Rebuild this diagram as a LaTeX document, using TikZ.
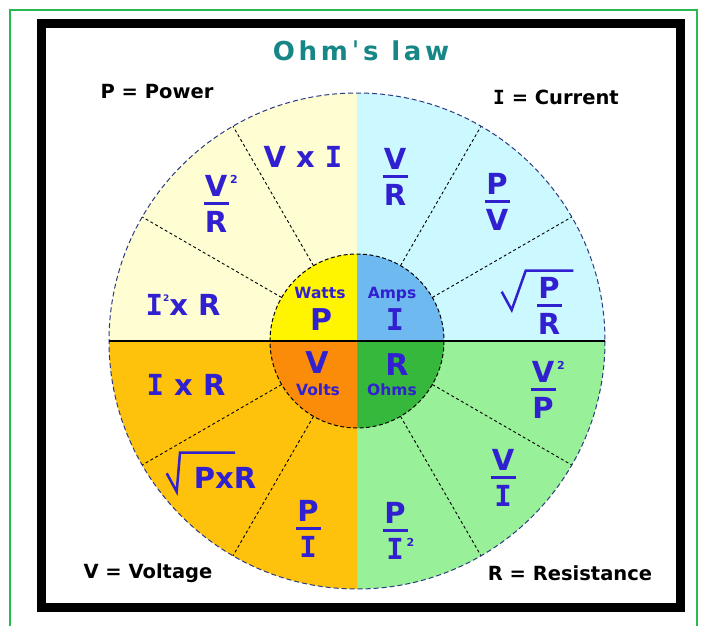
\documentclass[tikz,border=0pt]{standalone}
\usepackage{fontspec}
\setmainfont{DejaVu Sans}
\newfontfamily\monof{DejaVu Sans Mono}
\newcommand\II{{\monof\bfseries I}}
\newcommand\supt[1]{\rlap{\hspace{3pt}\raisebox{13pt}{\fontsize{11}{11}\selectfont #1}}}
\usetikzlibrary{calc}
\definecolor{frmgreen}{RGB}{40,185,80}
\definecolor{titleteal}{RGB}{22,134,134}
\definecolor{fblue}{RGB}{48,32,208}
\definecolor{rimblue}{RGB}{45,60,130}
\definecolor{qAout}{RGB}{255,253,210}
\definecolor{qAin}{RGB}{255,245,0}
\definecolor{qBout}{RGB}{204,248,255}
\definecolor{qBin}{RGB}{110,185,240}
\definecolor{qCout}{RGB}{255,194,12}
\definecolor{qCin}{RGB}{250,140,10}
\definecolor{qDout}{RGB}{152,240,152}
\definecolor{qDin}{RGB}{54,184,60}
\tikzset{
  fml/.style={text=fblue, font=\fontsize{29}{29}\selectfont\bfseries, inner sep=0pt, anchor=base},
  inl/.style={text=fblue, font=\fontsize{15.5}{16}\selectfont\bfseries, inner sep=0pt, anchor=base},
  inbig/.style={text=fblue, font=\fontsize{30}{30}\selectfont\bfseries, inner sep=0pt, anchor=base},
  corner/.style={text=black, font=\fontsize{19.5}{20}\selectfont\bfseries, inner sep=0pt, anchor=base},
  titlestyle/.style={text=titleteal, font=\fontsize{26}{26}\selectfont\bfseries\addfontfeature{LetterSpace=14}, inner sep=0pt, anchor=base},
  fbar/.style={fblue, line width=3pt},
  radical/.style={fblue, line width=2.5pt, line join=miter},
  divider/.style={black, line width=0.9pt, dash pattern=on 3pt off 2.5pt},
  rim/.style={rimblue, line width=1pt, dash pattern=on 5pt off 3pt},
  incircle/.style={black, line width=1pt, dash pattern=on 4pt off 2.5pt},
}
% name, x, y of bar, numerator, denominator
\newcommand\fracnode[5]{%
  \node[fml] (#1n) at (#2,#3-7) {#4};
  \node[fml] (#1d) at (#2,#3+29) {#5};
  \coordinate (#1bl) at (#2-12.5,#3);
  \coordinate (#1br) at (#2+12.5,#3);
  \draw[fbar] (#1bl) -- (#1br);
}
\begin{document}
\begin{tikzpicture}[x=1pt,y=-1pt]
\fill[white] (0,0) rectangle (707,626);
\useasboundingbox (0,0) rectangle (707,626);
% frames
\draw[frmgreen, line width=1.5pt] (10,632) -- (10,10) -- (697,10) -- (697,632);
\draw[black, line width=9pt] (41.5,24) rectangle (680.5,607.5);
% circle
\coordinate (C) at (357,341);
\foreach \a/\co/\ci in {180/qAout/qAin, 270/qBout/qBin, 0/qDout/qDin, 90/qCout/qCin} {
  \fill[\co] (C) -- +(\a:248) arc[start angle=\a, delta angle=90, radius=248] -- cycle;
  \fill[\ci] (C) -- +(\a:87) arc[start angle=\a, delta angle=90, radius=87] -- cycle;
}
\foreach \a in {30,60,120,150,210,240,300,330}
  \draw[divider] (C) ++(\a:87) -- +(\a:161);
\draw[rim] (C) circle[radius=248];
\draw[incircle] (C) circle[radius=87];
\coordinate (HL) at (109,341);
\coordinate (HR) at (605,341);
\draw[black, line width=1.2pt] (HL) -- (HR);
% title and corner labels
\node[titlestyle] (title) at (361,61) {Ohm\symbol{"02C8}s law};
\node[corner] (pw) at (157,99) {P = Power};
\node[corner] (cu) at (556,104) {\II{} = Current};
\node[corner] (vo) at (148,578) {V = Voltage};
\node[corner] (re) at (570,580) {R = Resistance};
% inner labels
\node[inl] (watts) at (320,298) {Watts};
\node[inbig] (pin) at (321,330) {P};
\node[inl] (amps) at (392,298) {Amps};
\node[inbig] (iin) at (395,330) {\II};
\node[inbig] (vin) at (317,373) {V};
\node[inl] (volts) at (318,395) {Volts};
\node[inbig] (rin) at (397,375) {R};
\node[inl] (ohms) at (392,395) {Ohms};
% top-left quadrant
\node[fml] (vxi) at (303,167) {V x \II};
\fracnode{vsqr}{216}{203.5}{V\supt{2}}{R}
\node[fml] (isqr) at (183,315) {\II\raisebox{14pt}{\fontsize{9}{9}\selectfont 2}x R};
% top-right quadrant
\fracnode{vr}{395}{176.5}{V}{R}
\fracnode{pv}{497}{201.5}{P}{V}
\fracnode{pr}{549}{305}{P}{R}
\draw[radical] (501.7,291.7) -- (511.7,310) -- (525.7,270.7) -- (573.3,270.7);
% bottom-left quadrant
\node[fml] (ixr) at (186,395) {\II{} x R};
\node[fml] (pxr) at (225,488) {PxR};
\draw[radical] (166.7,473.3) -- (176.7,491.7) -- (180,452.7) -- (235,452.7);
\fracnode{pi}{308}{528.5}{P}{\II}
% bottom-right quadrant
\fracnode{pisq}{395}{530.5}{P}{\II\supt{2}}
\fracnode{vi}{503}{477.5}{V}{\II}
\fracnode{vsqp}{543}{389.5}{V\supt{2}}{P}
\end{tikzpicture}
\end{document}
